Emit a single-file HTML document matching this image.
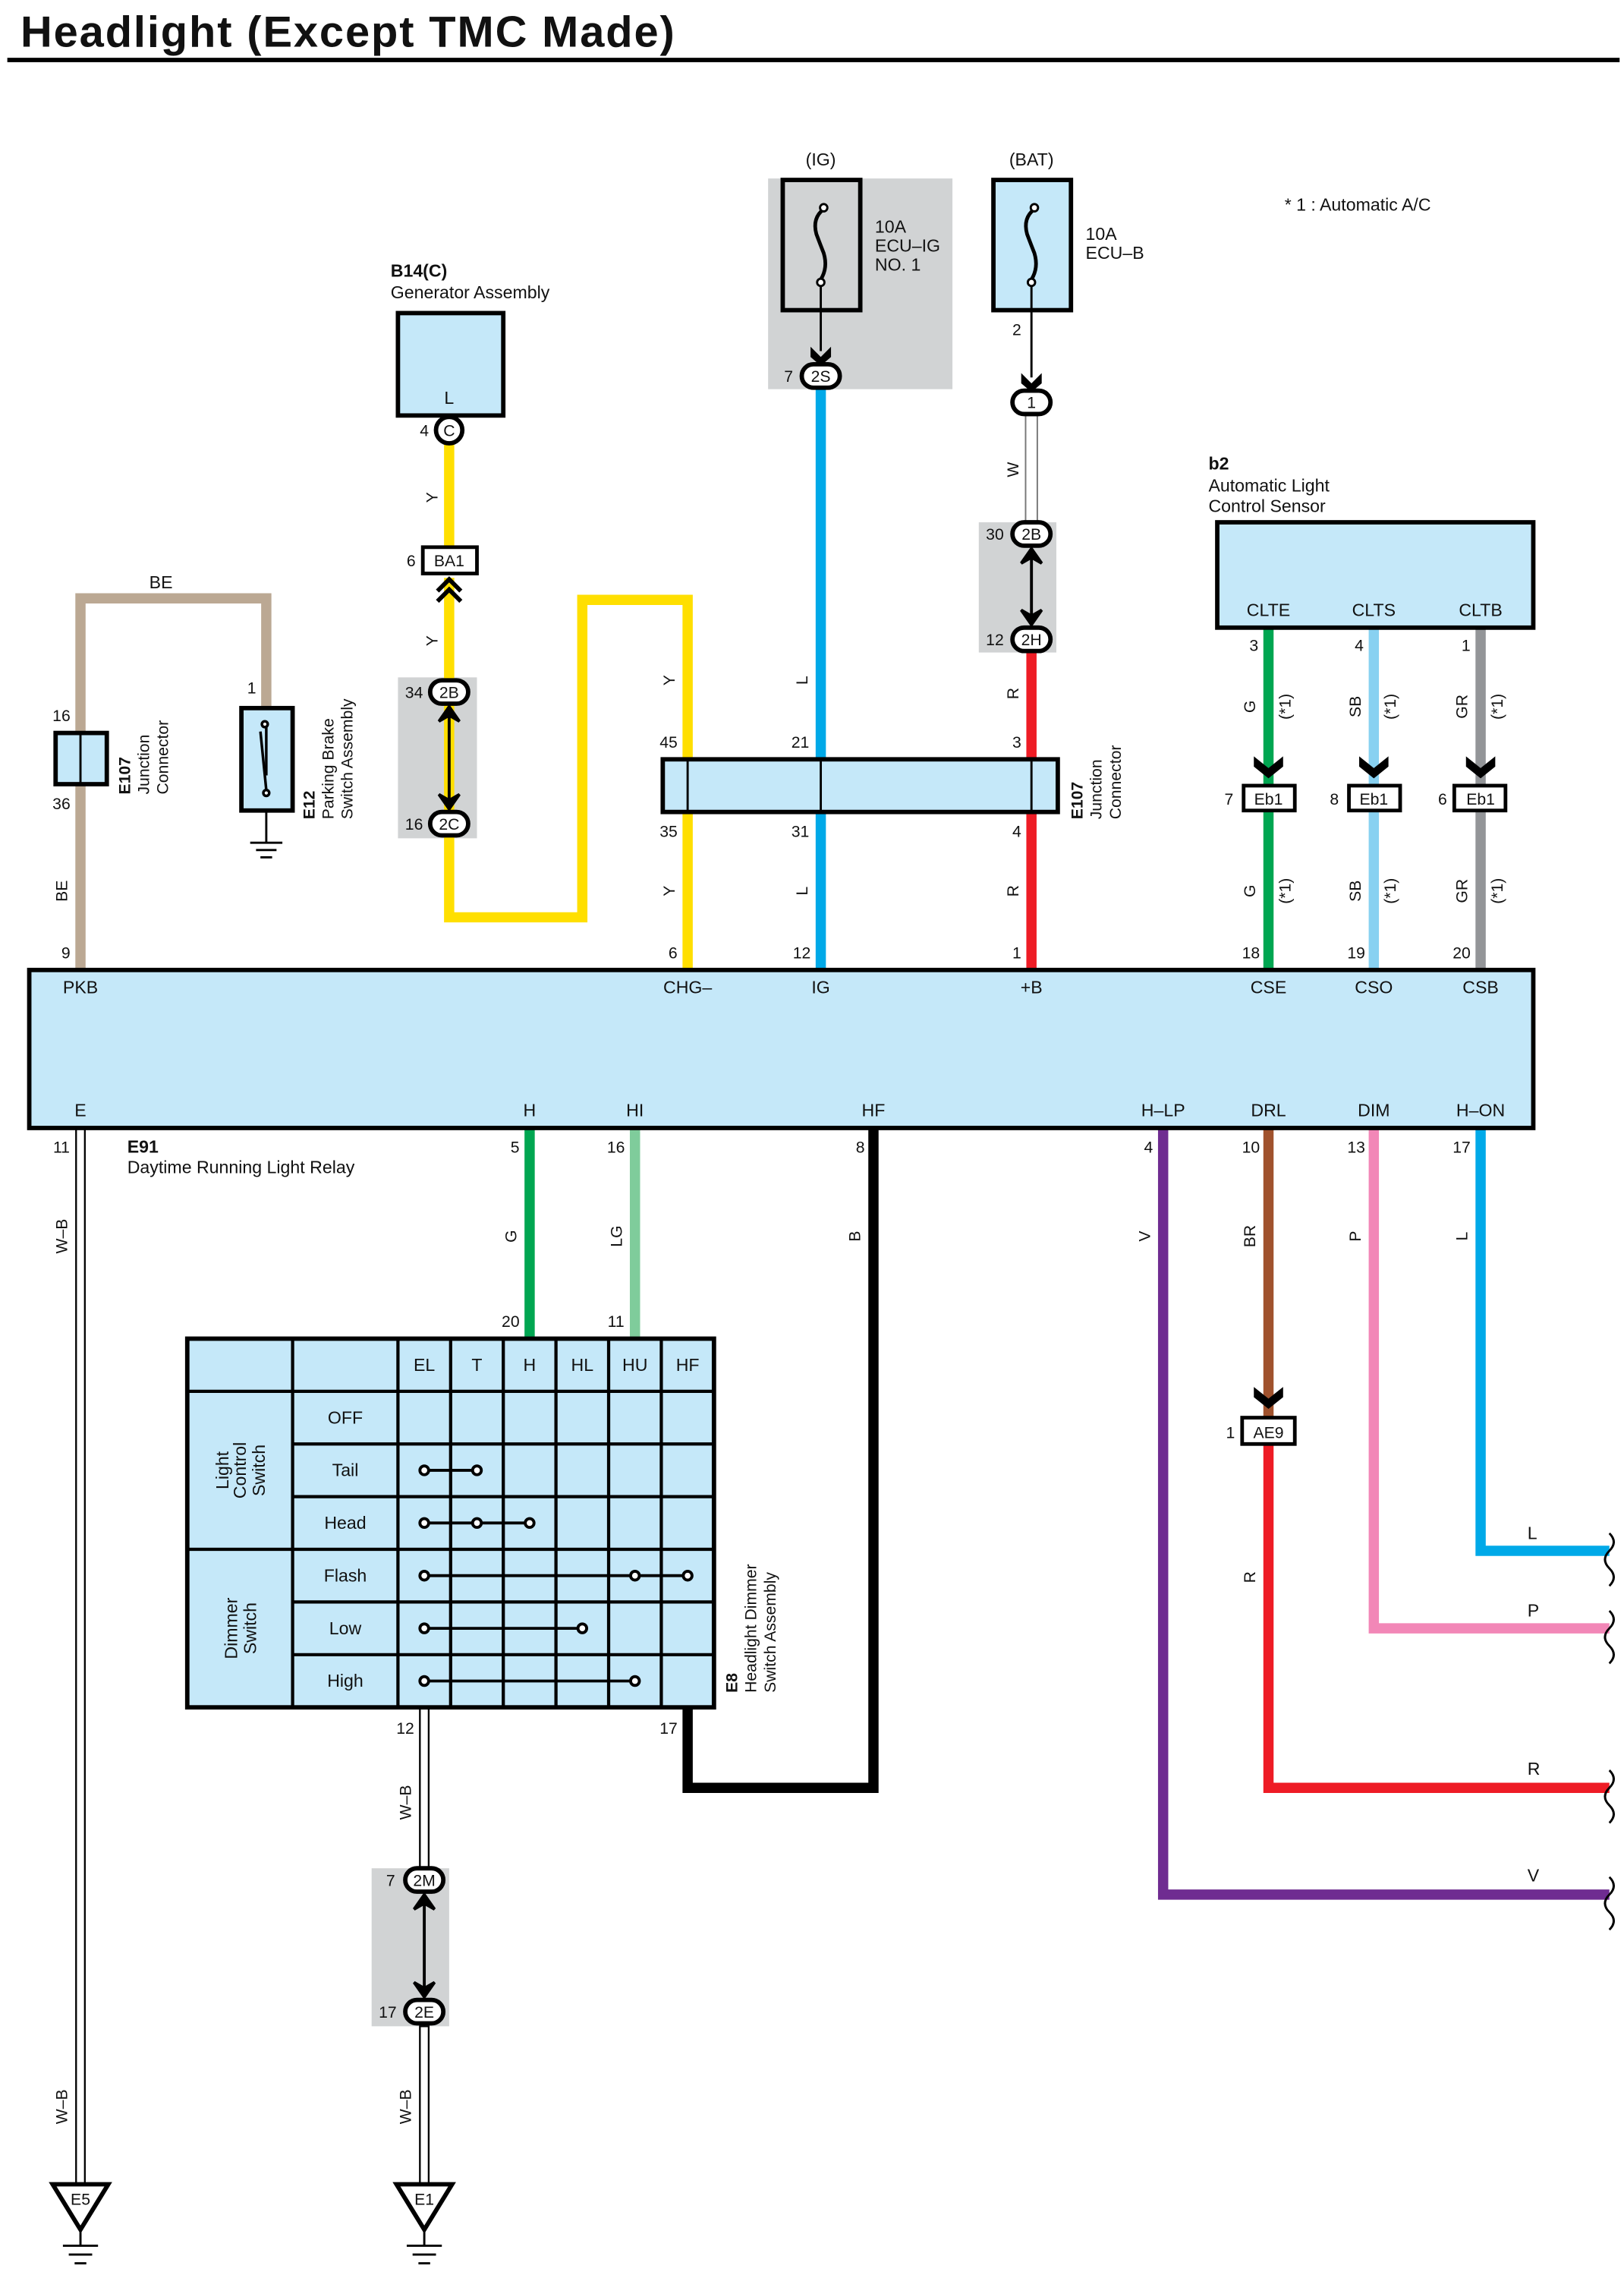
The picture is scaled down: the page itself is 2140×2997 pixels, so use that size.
<!DOCTYPE html>
<html><head><meta charset="utf-8"><style>
html,body{margin:0;padding:0;background:#fff;}
svg{display:block;}
text{font-family:"Liberation Sans",sans-serif;fill:#111;}
</style></head><body>
<svg width="2140" height="2997" viewBox="0 0 1110 1555" preserveAspectRatio="none" xmlns="http://www.w3.org/2000/svg">
<defs>
<marker id="ch" viewBox="0 0 10 10" refX="5" refY="5" markerWidth="4" markerHeight="4" orient="auto"><path d="M0,0 L10,5 L0,10 L3,5Z" fill="#000"/></marker>
</defs>
<rect width="1110" height="1555" fill="#fff"/>
<text x="14" y="32" font-size="30" font-weight="bold" textLength="447">Headlight (Except TMC Made)</text>
<rect x="5" y="39.5" width="1102" height="3" fill="#000"/>

<text x="878" y="144" font-size="12">* 1 : Automatic A/C</text>

<!-- gray areas -->
<rect x="525" y="122" width="126" height="144" fill="#d1d3d4"/>
<rect x="272" y="463" width="54" height="110" fill="#d1d3d4"/>
<rect x="669" y="357" width="53" height="89" fill="#d1d3d4"/>
<rect x="254" y="1277" width="53" height="108" fill="#d1d3d4"/>

<!-- wires -->
<g fill="none" stroke-width="7" stroke-linejoin="miter">
<path d="M55,662 V409 H182 V483" stroke="#bba893"/>
<path d="M307,303 V377 M307,395 V627 H398 V410 H470 V662" stroke="#ffdf00"/>
<path d="M561,265 V662" stroke="#00a9e8"/>
<path d="M705,446 V662" stroke="#ee1c25"/>
<path d="M867,429 V662" stroke="#00a651"/>
<path d="M939,429 V662" stroke="#88d1f1"/>
<path d="M1012,429 V662" stroke="#939598"/>
<path d="M362,771 V915" stroke="#00a651"/>
<path d="M434,771 V915" stroke="#7fcc9b"/>
<path d="M597,771 V1222 H470 V1167" stroke="#000"/>
<path d="M795,771 V1295 H1100" stroke="#6f2c91"/>
<path d="M867,771 V969" stroke="#a0522d"/>
<path d="M867,987 V1222 H1100" stroke="#ee1c25"/>
<path d="M939,771 V1113 H1100" stroke="#f287b7"/>
<path d="M1012,771 V1060 H1100" stroke="#00a9e8"/>
</g>
<!-- W wire (white) -->
<rect x="701" y="284" width="8" height="74" fill="#fff" stroke="#777" stroke-width="1"/>
<!-- W-B wires -->
<g fill="#fff" stroke="#000" stroke-width="1.2">
<rect x="52" y="771" width="6" height="722"/>
<rect x="287" y="1167" width="6" height="110"/>
<rect x="287" y="1385" width="6" height="108"/>
</g>
<line x1="290" y1="1277" x2="290" y2="1385" stroke="#000" stroke-width="1"/>
<!-- wavy ends -->
<g fill="none" stroke="#000" stroke-width="1.5">
<path d="M1100,1048 q6,6 0,12 q-6,6 0,12 q6,6 0,12"/>
<path d="M1100,1101 q6,6 0,12 q-6,6 0,12 q6,6 0,12"/>
<path d="M1100,1210 q6,6 0,12 q-6,6 0,12 q6,6 0,12"/>
<path d="M1100,1283 q6,6 0,12 q-6,6 0,12 q6,6 0,12"/>
</g>

<!-- Generator -->
<text x="267" y="189" font-size="12" font-weight="bold">B14(C)</text>
<text x="267" y="204" font-size="12">Generator Assembly</text>
<rect x="272" y="214" width="72" height="70" fill="#c5e8f9" stroke="#000" stroke-width="3"/>
<text x="307" y="276" font-size="12" text-anchor="middle">L</text>
<circle cx="307" cy="294" r="9" fill="#fff" stroke="#000" stroke-width="3"/>
<text x="307" y="298" font-size="11" text-anchor="middle">C</text>
<text x="290" y="298" font-size="11" text-anchor="middle">4</text>
<!-- BA1 -->
<rect x="289" y="374" width="37" height="18" fill="#fff" stroke="#000" stroke-width="2.5"/>
<text x="307" y="387" font-size="11" text-anchor="middle">BA1</text>
<text x="281" y="387" font-size="11" text-anchor="middle">6</text>
<path d="M299,404 L307,396 L315,404 M299,411 L307,403 L315,411" fill="none" stroke="#000" stroke-width="3"/>

<!-- connectors helper shapes -->
<g fill="#fff" stroke="#000" stroke-width="3">
<rect x="294" y="465" width="26" height="16" rx="8"/>
<rect x="294" y="555" width="26" height="16" rx="8"/>
<rect x="548" y="249" width="26" height="16" rx="8"/>
<rect x="692" y="267" width="26" height="16" rx="8"/>
<rect x="692" y="357" width="26" height="16" rx="8"/>
<rect x="692" y="429" width="26" height="16" rx="8"/>
<rect x="277" y="1277" width="26" height="16" rx="8"/>
<rect x="277" y="1367" width="26" height="16" rx="8"/>
</g>
<g font-size="11" text-anchor="middle">
<text x="307" y="477">2B</text><text x="283" y="477">34</text>
<text x="307" y="567">2C</text><text x="283" y="567">16</text>
<text x="561" y="261">2S</text><text x="539" y="261">7</text>
<text x="705" y="279">1</text>
<text x="705" y="369">2B</text><text x="680" y="369">30</text>
<text x="705" y="441">2H</text><text x="680" y="441">12</text>
<text x="290" y="1289">2M</text><text x="267" y="1289">7</text>
<text x="290" y="1379">2E</text><text x="265" y="1379">17</text>
</g>
<!-- double arrows -->
<g stroke="#000" stroke-width="2" fill="#000">
<line x1="307" y1="485" x2="307" y2="551"/>
<path d="M300,493 L307,483 L314,493 L307,489Z M300,543 L307,553 L314,543 L307,547Z"/>
<line x1="705" y1="377" x2="705" y2="425"/>
<path d="M698,385 L705,375 L712,385 L705,381Z M698,417 L705,427 L712,417 L705,421Z"/>
<line x1="290" y1="1297" x2="290" y2="1363"/>
<path d="M283,1305 L290,1295 L297,1305 L290,1301Z M283,1355 L290,1365 L297,1355 L290,1359Z"/>
</g>

<!-- Fuses -->
<text x="561" y="113" font-size="12" text-anchor="middle">(IG)</text>
<rect x="535" y="123" width="53" height="89" fill="#d1d3d4" stroke="#000" stroke-width="3"/>
<text x="705" y="113" font-size="12" text-anchor="middle">(BAT)</text>
<rect x="679" y="123" width="53" height="89" fill="#c5e8f9" stroke="#000" stroke-width="3"/>
<g fill="none" stroke="#000" stroke-width="2.5">
<path d="M563,143 q-8,6 -5,17 q3,8 5,13 q3,10 -2,18"/>
<path d="M707,143 q-8,6 -5,17 q3,8 5,13 q3,10 -2,18"/>
</g>
<g fill="#fff" stroke="#000" stroke-width="1.5">
<circle cx="563" cy="142" r="2.5"/><circle cx="561" cy="193" r="2.5"/>
<circle cx="707" cy="142" r="2.5"/><circle cx="705" cy="193" r="2.5"/>
</g>
<line x1="561" y1="196" x2="561" y2="240" stroke="#000" stroke-width="1.5"/>
<line x1="705" y1="196" x2="705" y2="258" stroke="#000" stroke-width="1.5"/>
<path d="M554,237 L561,244 L568,237 L568,244 L561,250 L554,244Z" fill="#000"/>
<path d="M698,255 L705,262 L712,255 L712,262 L705,268 L698,262Z" fill="#000"/>
<g font-size="12">
<text x="598" y="159">10A</text><text x="598" y="172">ECU–IG</text><text x="598" y="185">NO. 1</text>
<text x="742" y="164">10A</text><text x="742" y="177">ECU–B</text>
</g>
<text x="695" y="229" font-size="11" text-anchor="middle">2</text>

<!-- E107 junction big -->
<rect x="453" y="519" width="270" height="36" fill="#c5e8f9" stroke="#000" stroke-width="3"/>
<g stroke="#000" stroke-width="1.5"><line x1="470" y1="519" x2="470" y2="555"/><line x1="561" y1="519" x2="561" y2="555"/><line x1="705" y1="519" x2="705" y2="555"/></g>
<g font-size="11" text-anchor="middle">
<text x="457" y="511">45</text><text x="547" y="511">21</text><text x="695" y="511">3</text>
<text x="457" y="572">35</text><text x="547" y="572">31</text><text x="695" y="572">4</text>
</g>
<g font-size="11" transform="translate(740,560) rotate(-90)"><text x="0" y="0" font-weight="bold">E107</text><text x="0" y="13">Junction</text><text x="0" y="26" dx="0">Connector</text></g>

<!-- E107 small, E12 -->
<rect x="38" y="501" width="35" height="35" fill="#c5e8f9" stroke="#000" stroke-width="3"/>
<line x1="55" y1="501" x2="55" y2="536" stroke="#000" stroke-width="1.5"/>
<text x="42" y="493" font-size="11" text-anchor="middle">16</text>
<text x="42" y="553" font-size="11" text-anchor="middle">36</text>
<g font-size="11" transform="translate(89,543) rotate(-90)"><text x="0" y="0" font-weight="bold">E107</text><text x="0" y="13">Junction</text><text x="0" y="26">Connector</text></g>
<rect x="165" y="484" width="35" height="70" fill="#c5e8f9" stroke="#000" stroke-width="3"/>
<text x="172" y="474" font-size="11" text-anchor="middle">1</text>
<g stroke="#000" stroke-width="1.8" fill="#fff"><line x1="182" y1="496" x2="182" y2="530"/><line x1="178" y1="500" x2="182" y2="540"/><circle cx="181" cy="495" r="2"/><circle cx="182" cy="542" r="2"/></g>
<g stroke="#000" stroke-width="1.5"><line x1="182" y1="554" x2="182" y2="576"/><line x1="171" y1="576" x2="193" y2="576"/><line x1="175" y1="581" x2="189" y2="581"/><line x1="178" y1="586" x2="186" y2="586"/></g>
<g font-size="11" transform="translate(215,560) rotate(-90)"><text x="0" y="0" font-weight="bold">E12</text><text x="0" y="13">Parking Brake</text><text x="0" y="26">Switch Assembly</text></g>
<text x="110" y="402" font-size="12" text-anchor="middle">BE</text>

<!-- b2 sensor -->
<text x="826" y="321" font-size="12" font-weight="bold">b2</text>
<text x="826" y="336" font-size="12">Automatic Light</text>
<text x="826" y="350" font-size="12">Control Sensor</text>
<rect x="832" y="357" width="216" height="72" fill="#c5e8f9" stroke="#000" stroke-width="3"/>
<g font-size="12" text-anchor="middle"><text x="867" y="421">CLTE</text><text x="939" y="421">CLTS</text><text x="1012" y="421">CLTB</text></g>
<g font-size="11" text-anchor="middle"><text x="857" y="445">3</text><text x="929" y="445">4</text><text x="1002" y="445">1</text></g>
<g fill="#000">
<path d="M857,517 L867,525 L877,517 L877,524 L867,532 L857,524Z"/>
<path d="M929,517 L939,525 L949,517 L949,524 L939,532 L929,524Z"/>
<path d="M1002,517 L1012,525 L1022,517 L1022,524 L1012,532 L1002,524Z"/>
<path d="M857,948 L867,956 L877,948 L877,955 L867,963 L857,955Z"/>
</g>
<g fill="#fff" stroke="#000" stroke-width="2.5">
<rect x="850" y="537" width="35" height="17"/><rect x="922" y="537" width="35" height="17"/><rect x="994" y="537" width="35" height="17"/>
<rect x="849" y="969" width="36" height="18"/>
</g>
<g font-size="11" text-anchor="middle">
<text x="867" y="550">Eb1</text><text x="939" y="550">Eb1</text><text x="1012" y="550">Eb1</text>
<text x="840" y="550">7</text><text x="912" y="550">8</text><text x="986" y="550">6</text>
<text x="867" y="983">AE9</text><text x="841" y="983">1</text>
</g>

<!-- rotated wire labels -->
<g font-size="11" text-anchor="middle">
<text transform="translate(299,340) rotate(-90)">Y</text>
<text transform="translate(299,438) rotate(-90)">Y</text>
<text transform="translate(461,465) rotate(-90)">Y</text>
<text transform="translate(461,609) rotate(-90)">Y</text>
<text transform="translate(552,465) rotate(-90)">L</text>
<text transform="translate(552,609) rotate(-90)">L</text>
<text transform="translate(696,321) rotate(-90)">W</text>
<text transform="translate(696,474) rotate(-90)">R</text>
<text transform="translate(696,609) rotate(-90)">R</text>
<text transform="translate(858,483) rotate(-90)">G</text>
<text transform="translate(930,483) rotate(-90)">SB</text>
<text transform="translate(1003,483) rotate(-90)">GR</text>
<text transform="translate(882,483) rotate(-90)">(*1)</text>
<text transform="translate(954,483) rotate(-90)">(*1)</text>
<text transform="translate(1027,483) rotate(-90)">(*1)</text>
<text transform="translate(858,609) rotate(-90)">G</text>
<text transform="translate(930,609) rotate(-90)">SB</text>
<text transform="translate(1003,609) rotate(-90)">GR</text>
<text transform="translate(882,609) rotate(-90)">(*1)</text>
<text transform="translate(954,609) rotate(-90)">(*1)</text>
<text transform="translate(1027,609) rotate(-90)">(*1)</text>
<text transform="translate(46,609) rotate(-90)">BE</text>
<text transform="translate(46,845) rotate(-90)">W–B</text>
<text transform="translate(46,1440) rotate(-90)">W–B</text>
<text transform="translate(281,1232) rotate(-90)">W–B</text>
<text transform="translate(281,1440) rotate(-90)">W–B</text>
<text transform="translate(353,845) rotate(-90)">G</text>
<text transform="translate(425,845) rotate(-90)">LG</text>
<text transform="translate(588,845) rotate(-90)">B</text>
<text transform="translate(786,845) rotate(-90)">V</text>
<text transform="translate(858,845) rotate(-90)">BR</text>
<text transform="translate(930,845) rotate(-90)">P</text>
<text transform="translate(1003,845) rotate(-90)">L</text>
<text transform="translate(858,1078) rotate(-90)">R</text>
</g>
<g font-size="12"><text x="1044" y="1052">L</text><text x="1044" y="1105">P</text><text x="1044" y="1213">R</text><text x="1044" y="1286">V</text></g>

<!-- E91 relay -->
<rect x="20" y="663" width="1028" height="108" fill="#c5e8f9" stroke="#000" stroke-width="3"/>
<g font-size="12" text-anchor="middle">
<text x="55" y="679">PKB</text><text x="470" y="679">CHG–</text><text x="561" y="679">IG</text><text x="705" y="679">+B</text>
<text x="867" y="679">CSE</text><text x="939" y="679">CSO</text><text x="1012" y="679">CSB</text>
<text x="55" y="763">E</text><text x="362" y="763">H</text><text x="434" y="763">HI</text><text x="597" y="763">HF</text>
<text x="795" y="763">H–LP</text><text x="867" y="763">DRL</text><text x="939" y="763">DIM</text><text x="1012" y="763">H–ON</text>
</g>
<g font-size="11" text-anchor="middle">
<text x="45" y="655">9</text><text x="460" y="655">6</text><text x="548" y="655">12</text><text x="695" y="655">1</text>
<text x="855" y="655">18</text><text x="927" y="655">19</text><text x="999" y="655">20</text>
<text x="42" y="788">11</text><text x="352" y="788">5</text><text x="421" y="788">16</text><text x="588" y="788">8</text>
<text x="785" y="788">4</text><text x="855" y="788">10</text><text x="927" y="788">13</text><text x="999" y="788">17</text>
<text x="349" y="907">20</text><text x="421" y="907">11</text>
<text x="277" y="1185">12</text><text x="457" y="1185">17</text>
</g>
<text x="87" y="788" font-size="12" font-weight="bold">E91</text>
<text x="87" y="802" font-size="12">Daytime Running Light Relay</text>

<!-- E8 table -->
<rect x="128" y="915" width="360" height="252" fill="#c5e8f9" stroke="#000" stroke-width="3"/>
<g stroke="#000" stroke-width="2.2">
<line x1="200" y1="915" x2="200" y2="1167"/>
<line x1="272" y1="915" x2="272" y2="1167"/><line x1="308" y1="915" x2="308" y2="1167"/>
<line x1="344" y1="915" x2="344" y2="1167"/><line x1="380" y1="915" x2="380" y2="1167"/>
<line x1="416" y1="915" x2="416" y2="1167"/><line x1="452" y1="915" x2="452" y2="1167"/>
<line x1="128" y1="951" x2="488" y2="951"/>
<line x1="200" y1="987" x2="488" y2="987"/><line x1="200" y1="1023" x2="488" y2="1023"/>
<line x1="128" y1="1059" x2="488" y2="1059"/>
<line x1="200" y1="1095" x2="488" y2="1095"/><line x1="200" y1="1131" x2="488" y2="1131"/>
</g>
<g font-size="12" text-anchor="middle">
<text x="290" y="937">EL</text><text x="326" y="937">T</text><text x="362" y="937">H</text><text x="398" y="937">HL</text><text x="434" y="937">HU</text><text x="470" y="937">HF</text>
<text x="236" y="973">OFF</text><text x="236" y="1009">Tail</text><text x="236" y="1045">Head</text>
<text x="236" y="1081">Flash</text><text x="236" y="1117">Low</text><text x="236" y="1153">High</text>
</g>
<g font-size="12" text-anchor="middle">
<text transform="translate(156,1005) rotate(-90)">Light</text>
<text transform="translate(168,1005) rotate(-90)">Control</text>
<text transform="translate(181,1005) rotate(-90)">Switch</text>
<text transform="translate(162,1113) rotate(-90)">Dimmer</text>
<text transform="translate(175,1113) rotate(-90)">Switch</text>
</g>
<g stroke="#000" stroke-width="2">
<line x1="290" y1="1005" x2="326" y2="1005"/>
<line x1="290" y1="1041" x2="362" y2="1041"/>
<line x1="290" y1="1077" x2="470" y2="1077"/>
<line x1="290" y1="1113" x2="398" y2="1113"/>
<line x1="290" y1="1149" x2="434" y2="1149"/>
</g>
<g fill="#fff" stroke="#000" stroke-width="2">
<circle cx="290" cy="1005" r="3"/><circle cx="326" cy="1005" r="3"/>
<circle cx="290" cy="1041" r="3"/><circle cx="326" cy="1041" r="3"/><circle cx="362" cy="1041" r="3"/>
<circle cx="290" cy="1077" r="3"/><circle cx="434" cy="1077" r="3"/><circle cx="470" cy="1077" r="3"/>
<circle cx="290" cy="1113" r="3"/><circle cx="398" cy="1113" r="3"/>
<circle cx="290" cy="1149" r="3"/><circle cx="434" cy="1149" r="3"/>
</g>
<g font-size="11" transform="translate(504,1157) rotate(-90)"><text x="0" y="0" font-weight="bold">E8</text><text x="0" y="13">Headlight Dimmer</text><text x="0" y="26">Switch Assembly</text></g>

<!-- grounds -->
<g fill="#fff" stroke="#000" stroke-width="3">
<path d="M36,1493 H74 L55,1524Z"/>
<path d="M271,1493 H309 L290,1524Z"/>
</g>
<text x="55" y="1507" font-size="11" text-anchor="middle">E5</text>
<text x="290" y="1507" font-size="11" text-anchor="middle">E1</text>
<g stroke="#000" stroke-width="1.5">
<line x1="55" y1="1524" x2="55" y2="1535"/><line x1="43" y1="1535" x2="67" y2="1535"/><line x1="47" y1="1541" x2="63" y2="1541"/><line x1="51" y1="1547" x2="59" y2="1547"/>
<line x1="290" y1="1524" x2="290" y2="1535"/><line x1="278" y1="1535" x2="302" y2="1535"/><line x1="282" y1="1541" x2="298" y2="1541"/><line x1="286" y1="1547" x2="294" y2="1547"/>
</g>
</svg>
</body></html>
